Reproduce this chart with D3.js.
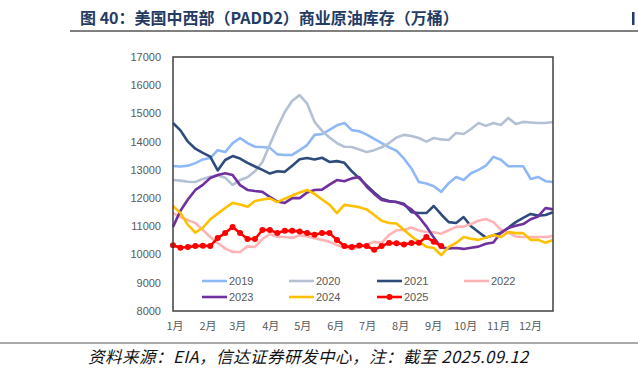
<!DOCTYPE html>
<html>
<head>
<meta charset="utf-8">
<script src="https://cdn.jsdelivr.net/npm/d3@7"></script>
<style>
  body { margin: 0; background: #fff; }
  svg { display: block; }
  text { font-family: "Liberation Sans", "Noto Sans CJK SC", sans-serif; }
</style>
</head>
<body>
<svg width="638" height="374"></svg>
<script>
// weekly stocks, 10k barrels, week 1..52
var years = ["2019", "2020", "2021", "2022", "2023", "2024", "2025"];
var colors = ["#8fb8f8", "#b4c0d3", "#2f4b7c", "#ffb3b5", "#7030a0", "#ffc000", "#ff0000"];

var s2019 = [13140, 13120, 13150, 13240, 13370, 13420, 13700, 13630, 13950, 14130, 13950, 13820, 13810, 13780, 13550, 13530, 13530, 13700, 13880, 14240, 14270, 14420, 14580, 14660, 14410, 14370, 14250, 14100, 13950, 13800, 13680, 13400, 13050, 12570, 12520, 12420, 12220, 12530, 12750, 12640, 12880, 13000, 13150, 13460, 13360, 13130, 13130, 13130, 12680, 12750, 12600, 12570];
var s2020 = [12640, 12620, 12580, 12570, 12680, 12760, 12800, 12720, 12470, 12640, 12740, 12950, 13280, 13900, 14500, 15050, 15450, 15650, 15350, 14700, 14380, 14150, 13950, 13820, 13810, 13720, 13630, 13700, 13800, 13950, 14150, 14240, 14200, 14130, 14000, 14130, 14080, 14060, 14310, 14270, 14450, 14660, 14560, 14660, 14590, 14840, 14630, 14700, 14680, 14660, 14660, 14700];
var s2021 = [14660, 14400, 14000, 13750, 13600, 13470, 12980, 13350, 13490, 13400, 13250, 13120, 13000, 12870, 12950, 12930, 13150, 13380, 13420, 13370, 13430, 13280, 13310, 13250, 12950, 12700, 12450, 12200, 11980, 11900, 11860, 11800, 11500, 11470, 11470, 11720, 11420, 11150, 11120, 11330, 11000, 10800, 10600, 10680, 10760, 10950, 11150, 11300, 11440, 11380, 11400, 11500];
var s2022 = [11470, 11330, 11220, 11120, 10870, 10620, 10410, 10220, 10090, 10090, 10290, 10270, 10550, 10730, 10620, 10620, 10590, 10680, 10650, 10580, 10520, 10450, 10340, 10250, 10200, 10260, 10360, 10450, 10410, 10700, 10860, 10870, 10960, 10850, 10800, 10790, 10740, 10860, 10980, 10990, 11080, 11200, 11260, 11150, 10880, 10780, 10640, 10620, 10620, 10620, 10620, 10660];
var s2023 = [10980, 11550, 11950, 12290, 12470, 12710, 12820, 12880, 12820, 12460, 12290, 12250, 12220, 12040, 11880, 11830, 12000, 12000, 12200, 12290, 12300, 12480, 12640, 12600, 12700, 12750, 12400, 12150, 11930, 11880, 11860, 11760, 11600, 11330, 11000, 10600, 10250, 10220, 10230, 10200, 10240, 10280, 10380, 10430, 10780, 10940, 11020, 11080, 11250, 11350, 11650, 11600];
var s2024 = [11720, 11470, 11050, 10780, 10950, 11250, 11450, 11650, 11830, 11770, 11690, 11900, 11950, 11990, 11860, 11980, 12090, 12200, 12290, 12150, 11950, 11770, 11470, 11760, 11720, 11680, 11600, 11400, 11200, 11120, 11100, 10870, 10650, 10450, 10280, 10230, 9980, 10270, 10410, 10620, 10560, 10520, 10600, 10690, 10620, 10800, 10760, 10760, 10520, 10520, 10420, 10520];
var s2025 = [10330, 10240, 10270, 10300, 10310, 10300, 10590, 10760, 10980, 10760, 10550, 10550, 10870, 10870, 10760, 10840, 10840, 10820, 10760, 10700, 10760, 10760, 10520, 10300, 10270, 10320, 10300, 10170, 10300, 10410, 10400, 10360, 10410, 10420, 10620, 10450, 10300];

var series = [s2019, s2020, s2021, s2022, s2023, s2024, s2025];
var yTicks = [8000, 9000, 10000, 11000, 12000, 13000, 14000, 15000, 16000, 17000];
var monthLabels = ["1月", "2月", "3月", "4月", "5月", "6月", "7月", "8月", "9月", "10月", "11月", "12月"];

var svg = d3.select("svg");
var margin = {left: 173, right: 85, top: 57, bottom: 63};
var W = 638, H = 374;

var x = d3.scaleLinear().domain([0, 51]).range([margin.left, W - margin.right]);
var y = d3.scaleLinear().domain([8000, 17000]).range([H - margin.bottom, margin.top]);

// title
svg.append("text")
  .attr("x", 80).attr("y", 24)
  .style("font-family", "'Noto Sans CJK SC', sans-serif")
  .style("font-size", "16px").style("font-weight", "bold")
  .style("fill", "#243b63")
  .text("图 40：美国中西部（PADD2）商业原油库存（万桶）");
// edge of the next title, cut by the page
svg.append("rect")
  .attr("x", 632).attr("y", 12).attr("width", 2.5).attr("height", 13)
  .style("fill", "#243b63");
svg.append("line")
  .attr("x1", 70).attr("x2", 638).attr("y1", 31).attr("y2", 31)
  .style("stroke", "#555").style("stroke-width", 1.5);

// y axis labels
svg.append("g").selectAll("text")
  .data(yTicks)
  .enter().append("text")
  .attr("x", 161)
  .attr("y", function(d) { return y(d); })
  .attr("dy", "0.35em")
  .attr("text-anchor", "end")
  .style("font-size", "11px")
  .style("fill", "#595959")
  .text(function(d) { return d; });

// x labels at month starts (in weeks)
var monthWeek = d3.range(12).map(function(m) {
  return d3.timeDay.count(new Date(2021, 0, 1), new Date(2021, m, 1)) / 7;
});
svg.append("g").selectAll("text")
  .data(monthLabels)
  .enter().append("text")
  .attr("x", function(d, i) { return x(monthWeek[i]) + 2; })
  .attr("y", 330)
  .attr("text-anchor", "middle")
  .style("font-family", "'Noto Sans CJK SC', sans-serif")
  .style("font-size", "11px")
  .style("fill", "#595959")
  .text(function(d) { return d; });

// lines
var line = d3.line()
  .x(function(d, i) { return x(i); })
  .y(function(d) { return y(d); });

svg.append("g").selectAll("path")
  .data(series)
  .enter().append("path")
  .attr("d", line)
  .style("fill", "none")
  .style("stroke", function(d, i) { return colors[i]; })
  .style("stroke-width", 2.6)
  .style("stroke-linejoin", "round");

svg.append("g").selectAll("circle")
  .data(s2025)
  .enter().append("circle")
  .attr("cx", function(d, i) { return x(i); })
  .attr("cy", function(d) { return y(d); })
  .attr("r", 3)
  .style("fill", "#ff0000");

// frame
svg.append("rect")
  .attr("x", margin.left).attr("y", margin.top)
  .attr("width", W - margin.left - margin.right)
  .attr("height", H - margin.top - margin.bottom)
  .style("fill", "none")
  .style("stroke", "#404040")
  .style("stroke-width", 1.5);

// legend
var legX = [202, 289, 377, 464];
var leg = svg.append("g").selectAll("g")
  .data(years)
  .enter().append("g")
  .attr("transform", function(d, i) {
    return "translate(" + legX[i % 4] + "," + (281 + Math.floor(i / 4) * 16) + ")";
  });
leg.append("line")
  .attr("x1", 0).attr("x2", 25)
  .style("stroke", function(d, i) { return colors[i]; })
  .style("stroke-width", 2.6);
leg.filter(function(d) { return d === "2025"; }).append("circle")
  .attr("cx", 12.5).attr("r", 3)
  .style("fill", "#ff0000");
leg.append("text")
  .attr("x", 27).attr("dy", "0.35em")
  .style("font-size", "11px")
  .style("fill", "#595959")
  .text(function(d) { return d; });

// source
svg.append("line")
  .attr("x1", 0).attr("x2", 638).attr("y1", 343).attr("y2", 343)
  .style("stroke", "#555").style("stroke-width", 1.2);
svg.append("text")
  .attr("x", 88).attr("y", 363)
  .style("font-family", "'Noto Sans CJK SC', sans-serif")
  .style("font-size", "16.5px").style("font-style", "italic")
  .style("letter-spacing", "0.5px")
  .style("fill", "#111")
  .text("资料来源：EIA，信达证券研发中心，注：截至 2025.09.12");
</script>
</body>
</html>
